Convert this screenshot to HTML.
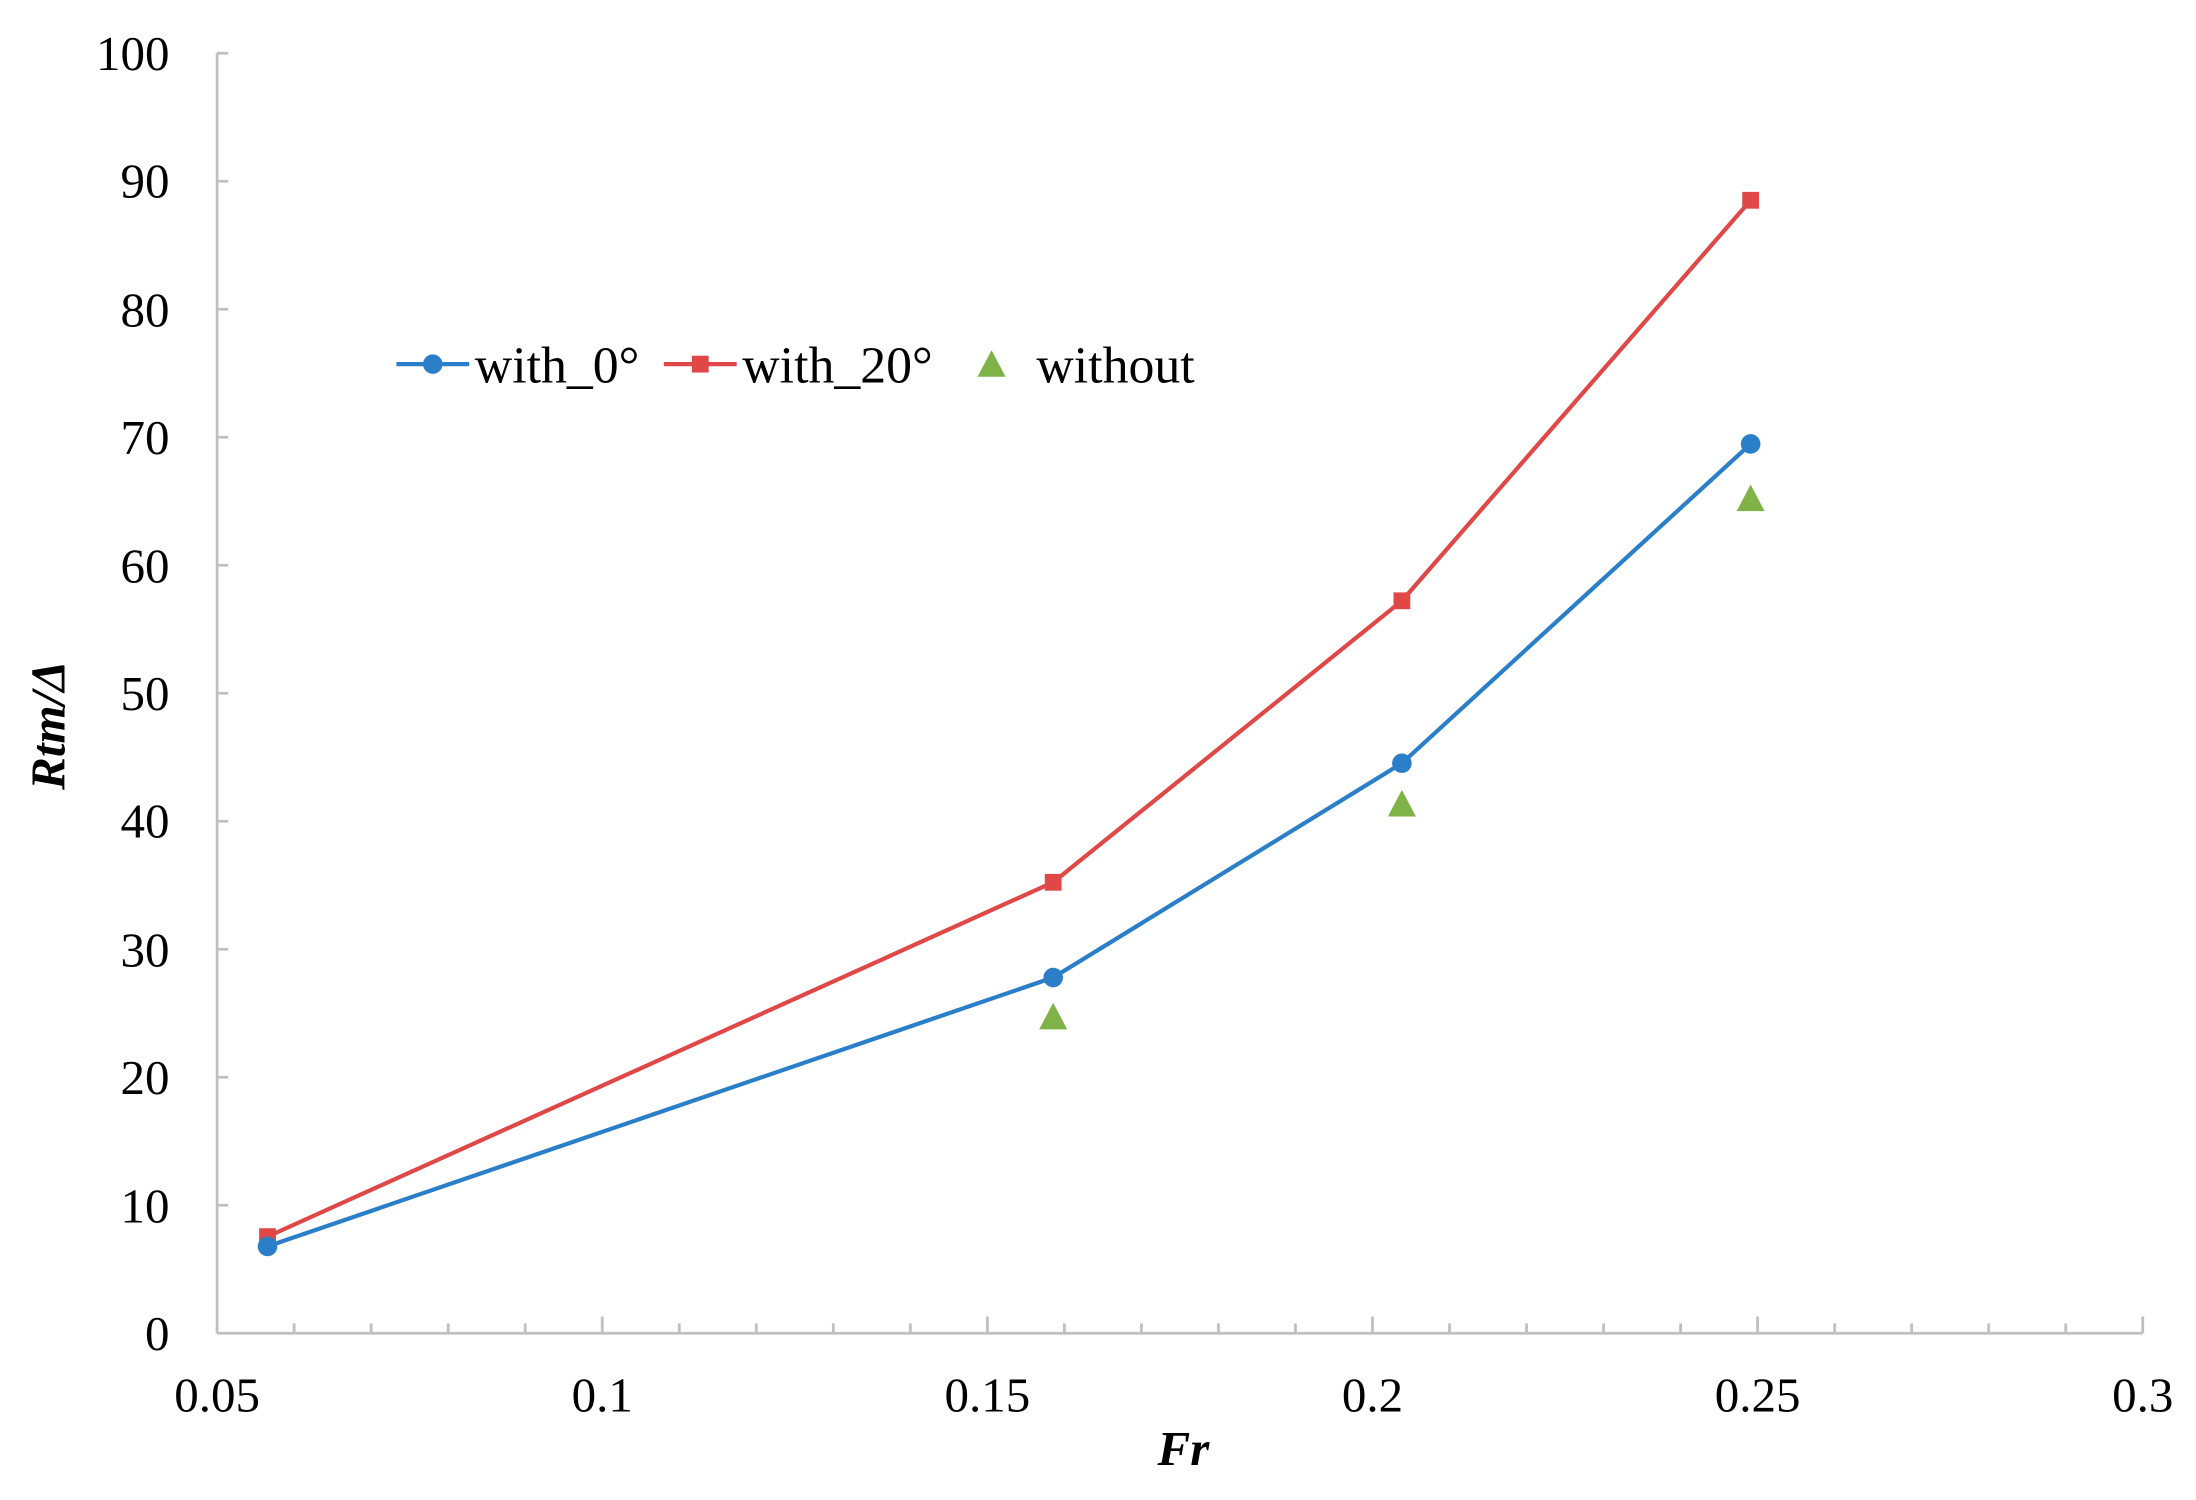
<!DOCTYPE html>
<html><head><style>html,body{margin:0;padding:0;background:#fff;}</style></head>
<body>
<svg width="2196" height="1495" viewBox="0 0 1568 1067.5" xmlns="http://www.w3.org/2000/svg" font-family="Liberation Serif, serif">
<rect width="1568" height="1067.5" fill="#fff"/>
<g stroke="#bfbfbf" stroke-width="2" fill="none">
<line x1="155" y1="38" x2="155" y2="952"/>
<line x1="155" y1="952" x2="1530" y2="952"/>
<line x1="155" y1="38" x2="163" y2="38"/><line x1="155" y1="129.4" x2="163" y2="129.4"/><line x1="155" y1="220.8" x2="163" y2="220.8"/><line x1="155" y1="312.2" x2="163" y2="312.2"/><line x1="155" y1="403.6" x2="163" y2="403.6"/><line x1="155" y1="495" x2="163" y2="495"/><line x1="155" y1="586.4" x2="163" y2="586.4"/><line x1="155" y1="677.8" x2="163" y2="677.8"/><line x1="155" y1="769.2" x2="163" y2="769.2"/><line x1="155" y1="860.6" x2="163" y2="860.6"/>
<line x1="210" y1="952" x2="210" y2="945"/><line x1="265" y1="952" x2="265" y2="945"/><line x1="320" y1="952" x2="320" y2="945"/><line x1="375" y1="952" x2="375" y2="945"/><line x1="430" y1="952" x2="430" y2="940"/>
<line x1="485" y1="952" x2="485" y2="945"/><line x1="540" y1="952" x2="540" y2="945"/><line x1="595" y1="952" x2="595" y2="945"/><line x1="650" y1="952" x2="650" y2="945"/><line x1="705" y1="952" x2="705" y2="940"/>
<line x1="760" y1="952" x2="760" y2="945"/><line x1="815" y1="952" x2="815" y2="945"/><line x1="870" y1="952" x2="870" y2="945"/><line x1="925" y1="952" x2="925" y2="945"/><line x1="980" y1="952" x2="980" y2="940"/>
<line x1="1035" y1="952" x2="1035" y2="945"/><line x1="1090" y1="952" x2="1090" y2="945"/><line x1="1145" y1="952" x2="1145" y2="945"/><line x1="1200" y1="952" x2="1200" y2="945"/><line x1="1255" y1="952" x2="1255" y2="940"/>
<line x1="1310" y1="952" x2="1310" y2="945"/><line x1="1365" y1="952" x2="1365" y2="945"/><line x1="1420" y1="952" x2="1420" y2="945"/><line x1="1475" y1="952" x2="1475" y2="945"/><line x1="1530" y1="952" x2="1530" y2="940"/>
</g>
<g font-size="35" fill="#000" text-anchor="end">
<text x="121" y="50">100</text><text x="121" y="141">90</text><text x="121" y="233">80</text><text x="121" y="324">70</text><text x="121" y="416">60</text><text x="121" y="507">50</text><text x="121" y="598">40</text><text x="121" y="690">30</text><text x="121" y="781">20</text><text x="121" y="873">10</text><text x="121" y="964">0</text>
</g>
<g font-size="35" fill="#000" text-anchor="middle">
<text x="155" y="1008">0.05</text><text x="430" y="1008">0.1</text><text x="705" y="1008">0.15</text><text x="980" y="1008">0.2</text><text x="1255" y="1008">0.25</text><text x="1530" y="1008">0.3</text>
</g>
<text x="845" y="1046" font-size="35" font-weight="bold" font-style="italic" text-anchor="middle">Fr</text>
<text transform="translate(46,518) rotate(-90)" font-size="35" font-weight="bold" font-style="italic" text-anchor="middle">Rtm/Δ</text>
<polyline points="191,883 752,630 1001,429 1250,143" fill="none" stroke="#e04848" stroke-width="3"/>
<polyline points="191,890 752,698 1001,545 1250,317" fill="none" stroke="#2a7fc8" stroke-width="3"/>
<g fill="#e04848"><rect x="185" y="877" width="12" height="12"/><rect x="746" y="624" width="12" height="12"/><rect x="995" y="423" width="12" height="12"/><rect x="1244" y="137" width="12" height="12"/></g>
<g fill="#2a7fc8"><circle cx="191" cy="890" r="7"/><circle cx="752" cy="698" r="7"/><circle cx="1001" cy="545" r="7"/><circle cx="1250" cy="317" r="7"/></g>
<g fill="#7fb347"><polygon points="752,716 742,735 762,735"/><polygon points="1001,564 991,583 1011,583"/><polygon points="1250,346 1240,365 1260,365"/></g>
<line x1="283" y1="260" x2="335" y2="260" stroke="#2a7fc8" stroke-width="3"/><circle cx="309" cy="260" r="7" fill="#2a7fc8"/>
<text x="339" y="273" font-size="37">with_0°</text>
<line x1="474" y1="260" x2="526" y2="260" stroke="#e04848" stroke-width="3"/><rect x="494" y="254" width="12" height="12" fill="#e04848"/>
<text x="530" y="273" font-size="37">with_20°</text>
<polygon points="708,250 698,269 718,269" fill="#7fb347"/>
<text x="740" y="273" font-size="37">without</text>
</svg>
</body></html>
